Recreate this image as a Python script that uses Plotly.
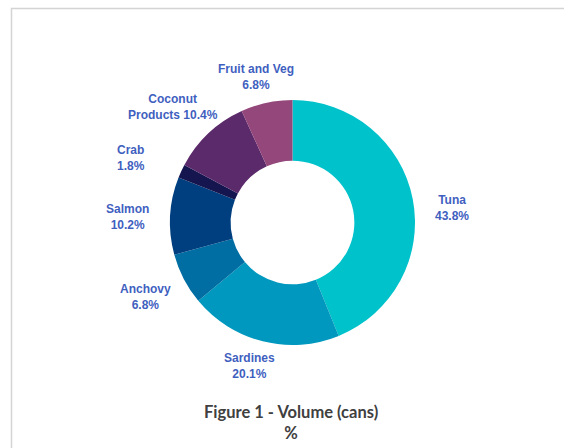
import math
import plotly.graph_objects as go

# ---- data ----
categories = ["Tuna", "Sardines", "Anchovy", "Salmon", "Crab", "Coconut Products", "Fruit and Veg"]
values = [43.8, 20.1, 6.8, 10.2, 1.8, 10.4, 6.8]
label_texts = ["Tuna<br>43.8%", "Sardines<br>20.1%", "Anchovy<br>6.8%", "Salmon<br>10.2%",
               "Crab<br>1.8%", "Coconut<br>Products 10.4%", "Fruit and Veg<br>6.8%"]
title_text = "<b>Figure 1 - Volume (cans)<br>%</b>"

# ---- style ----
colors = ["#00c2cb", "#0098be", "#006ea3", "#003f7f", "#15164f", "#5b2a6a", "#94477b"]
label_color = "#3f5fbf"
W, H = 564, 448
# pie box in pixels (left, top, right, bottom)
PX0, PY0, PX1, PY1 = 170, 100, 415, 345
# label placement: distance from pie centre (in pie radii) and angular nudge (degrees)
label_dist = [1.308, 1.225, 1.344, 1.351, 1.417, 1.36, 1.222]
label_nudge = [6.0, 2.5, 0.6, -1.3, -3.0, -2.7, -1.9]

fig = go.Figure()
fig.add_trace(go.Pie(
    labels=categories,
    values=values,
    hole=0.505,
    sort=False,
    direction="clockwise",
    rotation=0,
    marker=dict(colors=colors, line=dict(width=0)),
    textinfo="none",
    hoverinfo="label+percent",
    showlegend=False,
    domain=dict(x=[PX0 / W, PX1 / W], y=[1 - PY1 / H, 1 - PY0 / H]),
))

# label annotations placed around each slice's mid-angle
cx, cy = (PX0 + PX1) / 2, (PY0 + PY1) / 2
R = (PX1 - PX0) / 2
total = sum(values)
cum = 0.0
for txt, v, d, nd in zip(label_texts, values, label_dist, label_nudge):
    mid = (cum + v / 2) / total * 2 * math.pi + math.radians(nd)
    cum += v
    px = cx + d * R * math.sin(mid)
    py = cy - d * R * math.cos(mid)
    fig.add_annotation(
        x=px / W, y=1 - py / H, xref="paper", yref="paper",
        text="<b>" + txt + "</b>", showarrow=False,
        xanchor="center", yanchor="middle", align="center",
        font=dict(family="Liberation Sans, Arial", size=12, color=label_color),
    )

fig.add_annotation(
    x=290.5 / W, y=1 - 422.5 / H, xref="paper", yref="paper",
    text=title_text, showarrow=False, xanchor="center", yanchor="middle",
    align="center",
    font=dict(family="Lato", size=16.5, color="#404040"),
)

# chart border (partially visible)
fig.add_shape(type="rect", xref="paper", yref="paper",
              x0=11.5 / W, x1=1.05, y0=-0.05, y1=1 - 8.5 / H,
              line=dict(color="#d4d4d4", width=1.5), fillcolor="rgba(0,0,0,0)")

fig.update_layout(
    width=W, height=H,
    margin=dict(l=0, r=0, t=0, b=0),
    paper_bgcolor="white", plot_bgcolor="white",
)

fig.write_html("out.html")
